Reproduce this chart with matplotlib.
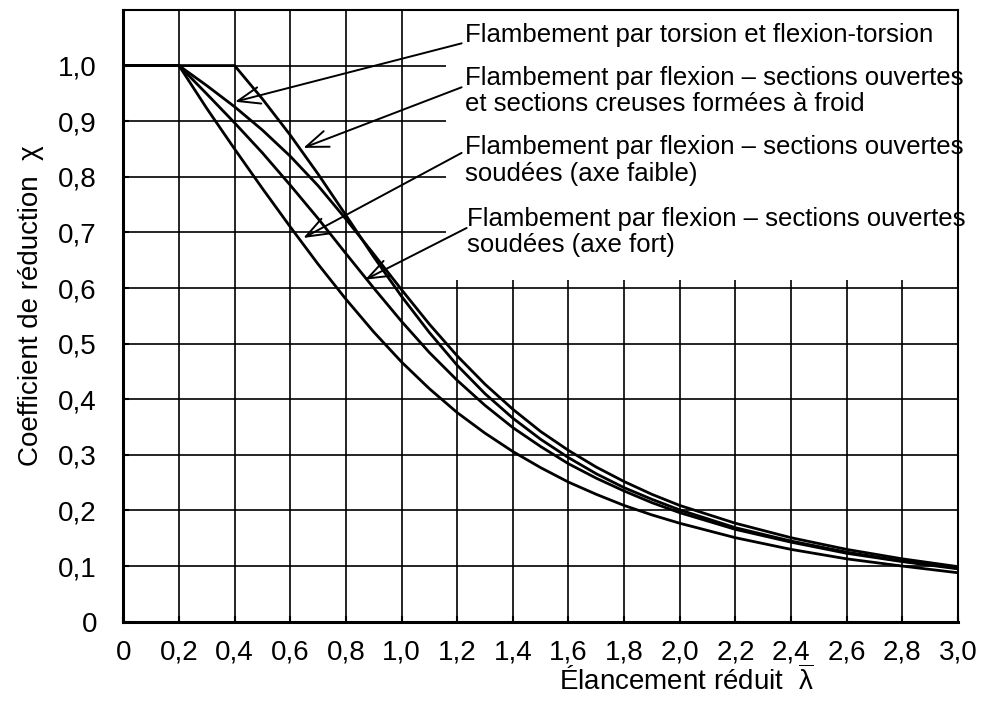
import numpy as np
import matplotlib
matplotlib.use('Agg')
import matplotlib.pyplot as plt
from matplotlib.patches import Rectangle

plt.rcParams['font.family'] = ['Liberation Sans', 'DejaVu Sans']
plt.rcParams['mathtext.fontset'] = 'custom'
plt.rcParams['mathtext.rm'] = 'Liberation Sans'
plt.rcParams['mathtext.it'] = 'Liberation Sans:italic'

# slenderness values read along the x axis
lam = [0.0, 0.2, 0.3, 0.4, 0.5, 0.6, 0.7, 0.8, 0.9, 1.0, 1.1, 1.2, 1.3, 1.4,
       1.5, 1.6, 1.7, 1.8, 1.9, 2.0, 2.2, 2.4, 2.6, 2.8, 3.0]

# reduction factor for each curve
chi_torsion = [1.0, 1.0, 0.964, 0.926, 0.884, 0.837, 0.784, 0.724, 0.661, 0.597,
               0.535, 0.478, 0.427, 0.382, 0.342, 0.308, 0.278, 0.252, 0.229,
               0.209, 0.177, 0.151, 0.130, 0.113, 0.099]
chi_froid = [1.0, 1.0, 1.0, 1.0, 0.940, 0.875, 0.805, 0.731, 0.656, 0.585,
             0.520, 0.461, 0.410, 0.366, 0.328, 0.295, 0.266, 0.241, 0.220,
             0.201, 0.169, 0.145, 0.125, 0.109, 0.096]
chi_faible = [1.0, 1.0, 0.923, 0.850, 0.779, 0.710, 0.643, 0.580, 0.521, 0.467,
              0.419, 0.376, 0.339, 0.306, 0.277, 0.251, 0.229, 0.209, 0.192,
              0.177, 0.151, 0.130, 0.113, 0.100, 0.088]
chi_fort = [1.0, 1.0, 0.949, 0.897, 0.843, 0.785, 0.725, 0.662, 0.600, 0.540,
            0.484, 0.434, 0.389, 0.349, 0.315, 0.284, 0.258, 0.235, 0.214,
            0.196, 0.166, 0.143, 0.123, 0.108, 0.095]

xticks = [0.0, 0.2, 0.4, 0.6, 0.8, 1.0, 1.2, 1.4, 1.6, 1.8, 2.0, 2.2, 2.4, 2.6, 2.8, 3.0]
xticklabels = ['0', '0,2', '0,4', '0,6', '0,8', '1,0', '1,2', '1,4', '1,6', '1,8',
               '2,0', '2,2', '2,4', '2,6', '2,8', '3,0']
yticks = [0.0, 0.1, 0.2, 0.3, 0.4, 0.5, 0.6, 0.7, 0.8, 0.9, 1.0]
yticklabels = ['0', '0,1', '0,2', '0,3', '0,4', '0,5', '0,6', '0,7', '0,8', '0,9', '1,0']

labels = [
    ["Flambement par torsion et flexion-torsion"],
    ["Flambement par flexion \u2013 sections ouvertes", "et sections creuses formées à froid"],
    ["Flambement par flexion \u2013 sections ouvertes", "soudées (axe faible)"],
    ["Flambement par flexion \u2013 sections ouvertes", "soudées (axe fort)"],
]
arrow_tips = [(0.4015, 0.935), (0.647, 0.852), (0.647, 0.690), (0.869, 0.615)]

fig = plt.figure(figsize=(9.84, 7.02), dpi=100)
ax = fig.add_axes([0.1253, 0.1144, 0.8483, 0.8714])

# grid
for x in xticks[1:-1]:
    ax.axvline(x, color='k', lw=1.2, zorder=1)
for y in yticks[1:]:
    ax.axhline(y, color='k', lw=1.2, zorder=1)
# blank area behind the annotations
ax.add_patch(Rectangle((1.159, 0.6146), 3.0 - 1.159, 0.6, facecolor='white',
                       edgecolor='none', zorder=1.5))

for c in [chi_torsion, chi_froid, chi_faible, chi_fort]:
    ax.plot(lam, c, color='k', lw=2.0, zorder=3, solid_joinstyle='round')

text_x = [1.228, 1.228, 1.228, 1.235]
base_y = [1.042, 0.9655, 0.841, 0.712]
starts = [(1.216, 1.040), (1.216, 0.961), (1.216, 0.843), (1.234, 0.708)]
for lines, tx, by, st, tip in zip(labels, text_x, base_y, starts, arrow_tips):
    for i, ln in enumerate(lines):
        ax.text(tx, by - i * 0.0478, ln, fontsize=18.5, ha='left', va='baseline', zorder=4)
    ax.annotate('', xy=tip, xytext=st, zorder=4,
                arrowprops=dict(arrowstyle='->,head_length=0.8,head_width=0.3',
                                mutation_scale=20, lw=1.4, color='k',
                                shrinkA=0, shrinkB=0))

ax.set_xlim(0, 3.0)
ax.set_ylim(0, 1.1)
ax.set_xticks(xticks)
ax.set_xticklabels(xticklabels)
ax.set_yticks(yticks)
ax.set_yticklabels(yticklabels)
ax.tick_params(axis='x', direction='in', length=4, width=1.5, pad=13, labelsize=20)
ax.tick_params(axis='y', direction='in', length=4, width=1.5, pad=19, labelsize=20)

for side in ['left', 'bottom']:
    ax.spines[side].set_linewidth(2.2)
for side in ['top', 'right']:
    ax.spines[side].set_linewidth(1.5)
for s in ax.spines.values():
    s.set_zorder(5)

fig.text(686 / 984, 1 - 690 / 702, 'Élancement réduit  $\\overline{\\mathrm{\\lambda}}$', fontsize=20,
         ha='center', va='baseline')
fig.text(38 / 984, 1 - 306 / 702, 'Coefficient de réduction  \u03c7', fontsize=20,
         rotation=90, rotation_mode='anchor', ha='center', va='baseline')

fig.savefig('out.png', dpi=100)
plt.close()
